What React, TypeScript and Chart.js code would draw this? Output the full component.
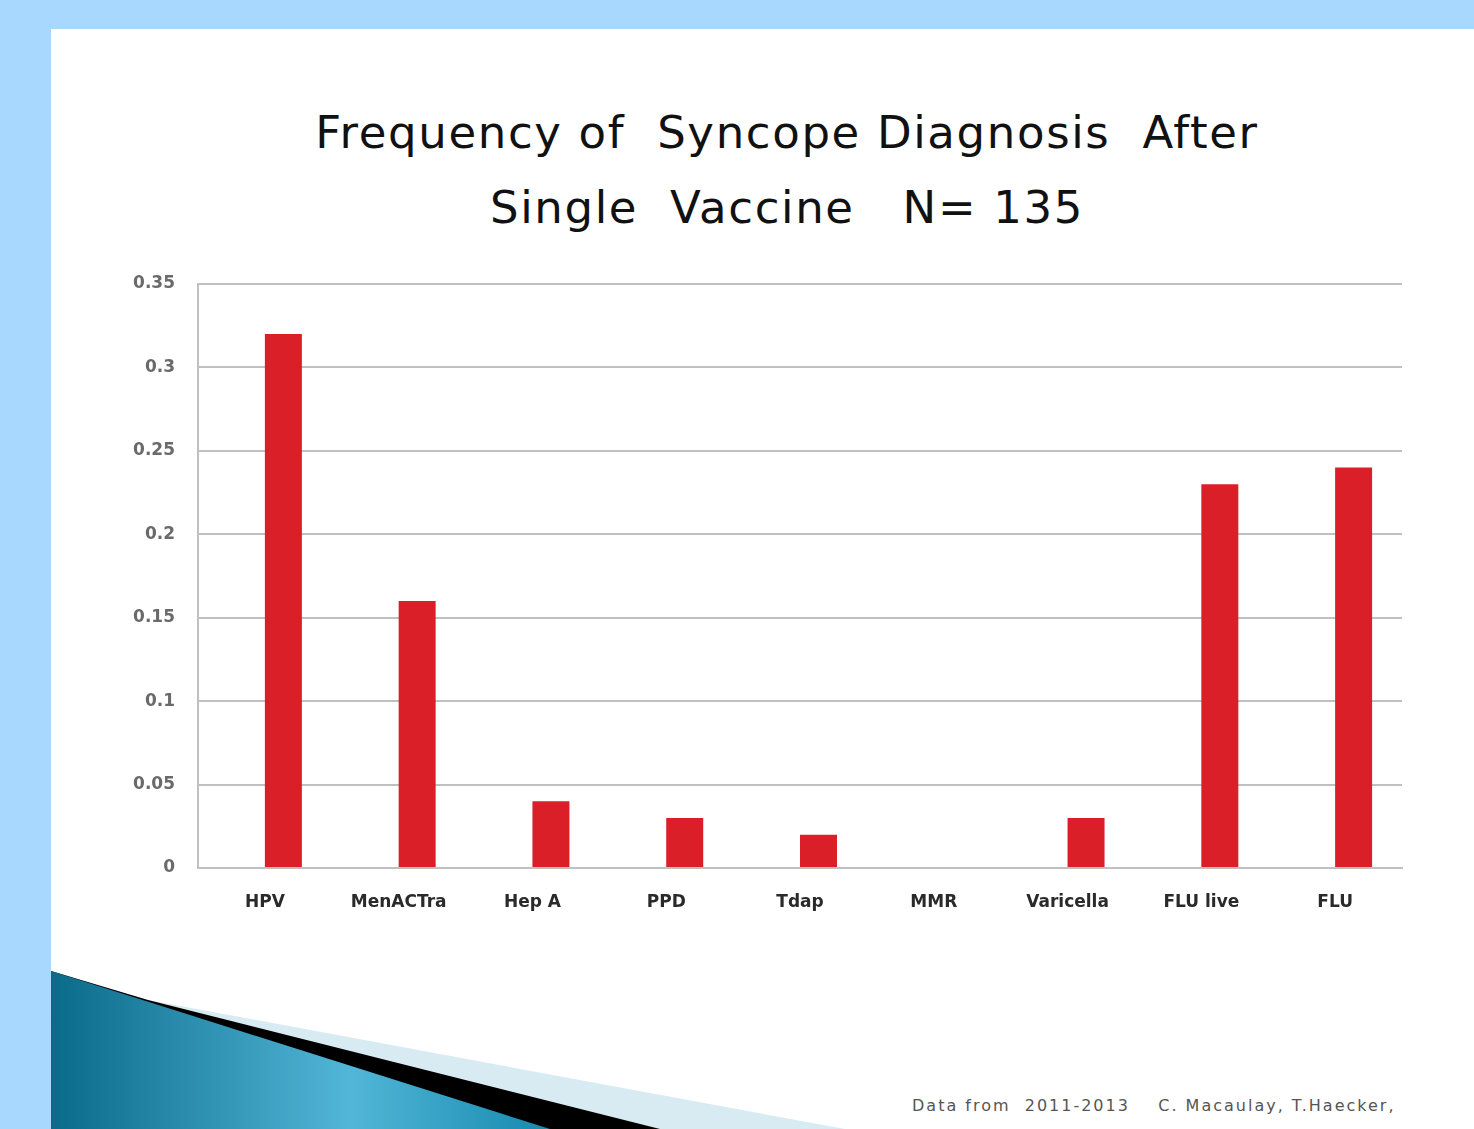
import React, { useEffect, useRef } from "react";
import { Chart, registerables } from "chart.js";

Chart.register(...registerables);

const categories = ["HPV", "MenACTra", "Hep A", "PPD", "Tdap", "MMR", "Varicella", "FLU live", "FLU"];
const frequencies = [0.32, 0.16, 0.04, 0.03, 0.02, 0, 0.03, 0.23, 0.24];
const emptySeries = [null, null, null, null, null, null, null, null, null];
const yTickLabels = ["0", "0.05", "0.1", "0.15", "0.2", "0.25", "0.3", "0.35"];
const titleLines = ["Frequency of  Syncope Diagnosis  After", "Single  Vaccine   N= 135"];
const footerText = "Data from  2011-2013    C. Macaulay, T.Haecker,";

export default function App() {
  const canvasRef = useRef<HTMLCanvasElement | null>(null);

  useEffect(() => {
    const canvas = canvasRef.current;
    if (!canvas) return;
    const chart = new Chart(canvas, {
      type: "bar",
      data: {
        labels: categories,
        datasets: [
          { label: "blank", data: emptySeries as any, backgroundColor: "rgba(0,0,0,0)" },
          { label: "Frequency", data: frequencies, backgroundColor: "#DA1F29" },
        ],
      },
      options: {
        animation: false,
        responsive: false,
        maintainAspectRatio: false,
        layout: { padding: { top: 24, right: 72, bottom: 0, left: 0 } },
        plugins: { legend: { display: false }, title: { display: false }, tooltip: { enabled: false } },
        datasets: { bar: { categoryPercentage: 0.553, barPercentage: 1 } },
        scales: {
          x: {
            grid: { display: false, drawTicks: false },
            border: { display: true, color: "#C0C0C0", width: 2 },
            ticks: {
              padding: 24,
              color: "#2a2a2a",
              font: { family: "DejaVu Sans", size: 17, weight: "bold" },
              maxRotation: 0,
              autoSkip: false,
            },
            afterFit: (s: any) => {
              s.height = 61;
              s.paddingLeft = 0;
              s.paddingRight = 0;
            },
          },
          y: {
            min: 0,
            max: 0.35,
            grid: { color: "#C0C0C0", lineWidth: 2, drawTicks: false },
            border: { display: true, color: "#C0C0C0", width: 2 },
            ticks: {
              stepSize: 0.05,
              padding: 23,
              color: "#6a6a6a",
              font: { family: "DejaVu Sans", size: 17, weight: "bold" },
              callback: (_v: any, i: number) => yTickLabels[i],
            },
            afterFit: (s: any) => {
              s.width = 147;
              s.paddingTop = 0;
              s.paddingBottom = 0;
            },
          },
        },
      },
    });
    return () => chart.destroy();
  }, []);

  return (
    <div
      style={{
        position: "fixed",
        left: 0,
        top: 0,
        width: 1474,
        height: 1129,
        background: "#A8D8FE",
        overflow: "hidden",
      }}
    >
      <div style={{ position: "absolute", left: 51, top: 29, width: 1423, height: 1100, background: "#FFFFFF" }} />
      <svg style={{ position: "absolute", left: 0, top: 0 }} width={1474} height={1129}>
        <defs>
          <linearGradient id="teal" x1="0" y1="0" x2="1" y2="0">
            <stop offset="0" stopColor="#0B6A89" />
            <stop offset="0.6" stopColor="#52B6D8" />
            <stop offset="1" stopColor="#168AAE" />
          </linearGradient>
        </defs>
        <polygon points="51,971 148,1000 845,1129 51,1129" fill="#D9EBF2" />
        <polygon points="51,971 148,1000 660,1129 51,1129" fill="#000000" />
        <polygon points="51,971 550,1129 51,1129" fill="url(#teal)" />
      </svg>
      <div
        style={{
          position: "absolute",
          left: 52,
          width: 1470,
          top: 95,
          textAlign: "center",
          fontFamily: "DejaVu Sans",
          fontSize: 45,
          letterSpacing: "1.65px",
          lineHeight: "75px",
          color: "#111111",
          whiteSpace: "pre",
        }}
      >
        {titleLines.map((t, i) => (
          <div key={i}>{t}</div>
        ))}
      </div>
      <canvas
        ref={canvasRef}
        width={1423}
        height={669}
        style={{ position: "absolute", left: 51, top: 260, width: 1423, height: 669 }}
      />
      <div
        style={{
          position: "absolute",
          left: 912,
          top: 1096,
          fontFamily: "DejaVu Sans",
          fontSize: 16,
          letterSpacing: "2px",
          color: "#555555",
          whiteSpace: "pre",
          lineHeight: "20px",
        }}
      >
        {footerText}
      </div>
    </div>
  );
}
